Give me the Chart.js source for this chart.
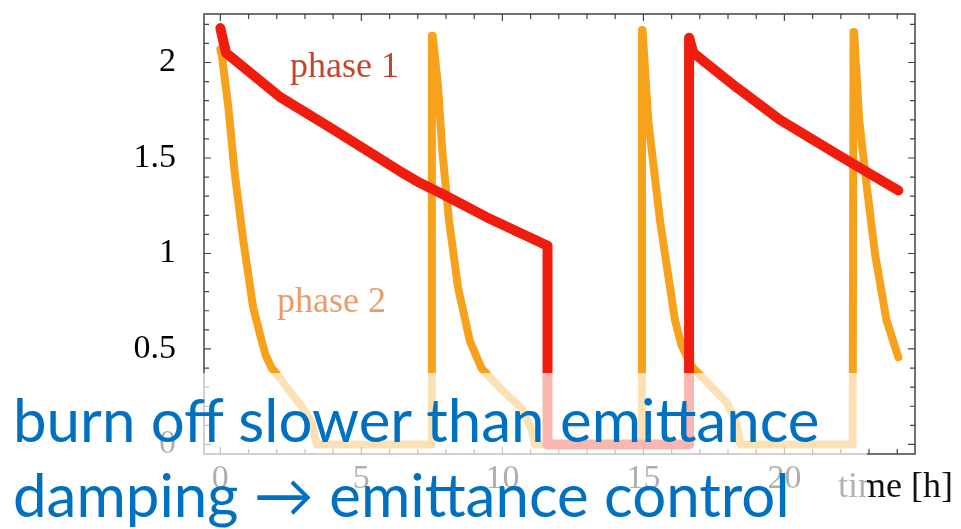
<!DOCTYPE html>
<html>
<head>
<meta charset="utf-8">
<script src="https://cdn.jsdelivr.net/npm/chart.js@4/dist/chart.umd.min.js"></script>
<style>
    body { margin: 0; background: #fff; }
    #wrap { position: relative; width: 961px; height: 529px; overflow: hidden; }
    .lbl { position: absolute; font-family: "Liberation Serif", serif; font-size: 36px; white-space: nowrap; line-height: 1; }
    #shade { position: absolute; left: 0; top: 373px; width: 867px; height: 156px; background: rgba(255, 255, 255, 0.68); }
    .note { position: absolute; left: 13px; font-family: Lato, sans-serif; font-size: 60px; color: #0070c0; white-space: nowrap; line-height: 1; }
</style>
</head>
<body>
<div id="wrap">
    <canvas id="burn-chart" width="961" height="529"></canvas>
    <div class="lbl" style="left:290px; top:47px; color:#c4452a;">phase 1</div>
    <div class="lbl" style="left:277px; top:282px; color:#ec9a6c;">phase 2</div>
    <div class="lbl" style="left:838px; top:467px; color:#111;">time [h]</div>
    <div id="shade"></div>
    <div class="note" style="top:389px;">burn off slower than emittance</div>
    <div class="note" style="top:464px;">damping → emittance control</div>
</div>
<script>
    // phase 1 (red)
    const phase1Time = [0, 0.2, 2.11, 3.99, 6.37, 7.07, 7.89, 9.44, 11.6, 11.6,
        16.62, 16.62, 16.77, 18.3, 19.84, 21.97, 22.43, 24.04];
    const phase1Value = [2.18, 2.05, 1.82, 1.65, 1.43, 1.37, 1.31, 1.19, 1.04, 0,
        0, 2.13, 2.05, 1.87, 1.70, 1.51, 1.47, 1.33];

    // phase 2 (orange)
    const phase2Time = [
        0, 0.06, 0.28, 0.51, 0.81, 1.16, 1.46, 1.6, 1.82, 2.0, 2.4, 2.88, 3.23, 3.36, 3.42,
        7.5, 7.5, 7.53, 7.72, 7.88, 8.11, 8.43, 8.85, 9.26, 9.5, 10.09, 10.68, 11.03, 11.12, 11.15,
        14.93, 14.95, 14.97, 15.17, 15.59, 16.12, 16.35, 16.7, 17.36, 17.95, 18.3, 18.4, 18.43,
        22.42, 22.45, 22.47, 22.65, 22.92, 23.21, 23.62, 24.04
    ];
    const phase2Value = [
        2.07, 2.03, 1.77, 1.42, 1.07, 0.72, 0.545, 0.47, 0.40, 0.37, 0.29, 0.20, 0.117, 0.04, 0,
        0, 2.14, 2.14, 1.87, 1.52, 1.17, 0.82, 0.54, 0.40, 0.36, 0.27, 0.19, 0.08, 0.02, 0,
        0, 2.17, 2.17, 1.70, 1.17, 0.65, 0.52, 0.41, 0.31, 0.22, 0.117, 0.03, 0,
        0, 2.16, 2.16, 1.70, 1.35, 1.0, 0.65, 0.457
    ];

    const xLabels = [0, 5, 10, 15, 20];
    const yLabels = [0, 0.5, 1, 1.5, 2];

    const toPoints = (xs, ys) => xs.map((x, i) => ({ x: x, y: ys[i] }));
    const serif = { family: '"Liberation Serif", serif', size: 34 };

    // box round the plot with small inward ticks on all four sides
    const framePlugin = {
        id: 'frame',
        afterDraw(chart) {
            const ctx = chart.ctx;
            const a = chart.chartArea;
            const xs = chart.scales.x, ys = chart.scales.y;
            ctx.save();
            ctx.strokeStyle = '#444';
            ctx.lineWidth = 1.5;
            ctx.strokeRect(a.left, a.top, a.right - a.left, a.bottom - a.top);
            ctx.lineWidth = 1.2;
            ctx.beginPath();
            xs.ticks.forEach(t => {
                const px = xs.getPixelForValue(t.value);
                const len = t.value % 5 === 0 ? 7 : 5;
                ctx.moveTo(px, a.bottom); ctx.lineTo(px, a.bottom - len);
                ctx.moveTo(px, a.top); ctx.lineTo(px, a.top + len);
            });
            ys.ticks.forEach(t => {
                const r = Math.round(t.value * 10);
                const py = ys.getPixelForValue(t.value);
                const len = r % 5 === 0 ? 7 : 5;
                ctx.moveTo(a.left, py); ctx.lineTo(a.left + len, py);
                ctx.moveTo(a.right, py); ctx.lineTo(a.right - len, py);
            });
            ctx.stroke();
            ctx.restore();
        }
    };

    const ctx = document.getElementById('burn-chart').getContext('2d');
    const burnChart = new Chart(ctx, {
        type: 'scatter',
        data: {
            datasets: [{
                label: 'phase 1',
                data: toPoints(phase1Time, phase1Value),
                borderColor: '#f01c0e',
                borderWidth: 10
            }, {
                label: 'phase 2',
                data: toPoints(phase2Time, phase2Value),
                borderColor: '#f7a21c',
                borderWidth: 8
            }]
        },
        options: {
            responsive: false,
            animation: false,
            showLine: true,
            elements: {
                point: { radius: 0 },
                line: { tension: 0, borderCapStyle: 'round', borderJoinStyle: 'round' }
            },
            layout: { padding: { top: 14, right: 46, left: 0, bottom: 0 } },
            plugins: {
                legend: { display: false },
                tooltip: { enabled: false }
            },
            scales: {
                x: {
                    type: 'linear',
                    min: -0.58,
                    max: 24.63,
                    border: { display: false },
                    grid: { display: false, drawTicks: false },
                    ticks: {
                        stepSize: 1,
                        includeBounds: false,
                        autoSkip: false,
                        maxRotation: 0,
                        padding: 5,
                        color: '#000',
                        font: serif,
                        callback: v => xLabels.includes(v) ? String(v) : ''
                    },
                    afterFit: s => { s.height = 75; s.paddingLeft = 0; s.paddingRight = 0; }
                },
                y: {
                    min: -0.05,
                    max: 2.254,
                    border: { display: false },
                    grid: { display: false, drawTicks: false },
                    ticks: {
                        stepSize: 0.1,
                        includeBounds: false,
                        autoSkip: false,
                        padding: 28,
                        color: '#000',
                        font: serif,
                        callback: v => {
                            const hit = yLabels.find(l => Math.abs(l - v) < 1e-6);
                            return hit === undefined ? '' : String(hit);
                        }
                    },
                    afterFit: s => { s.width = 204; s.paddingTop = 0; s.paddingBottom = 0; }
                }
            }
        },
        plugins: [framePlugin]
    });
</script>
</body>
</html>
